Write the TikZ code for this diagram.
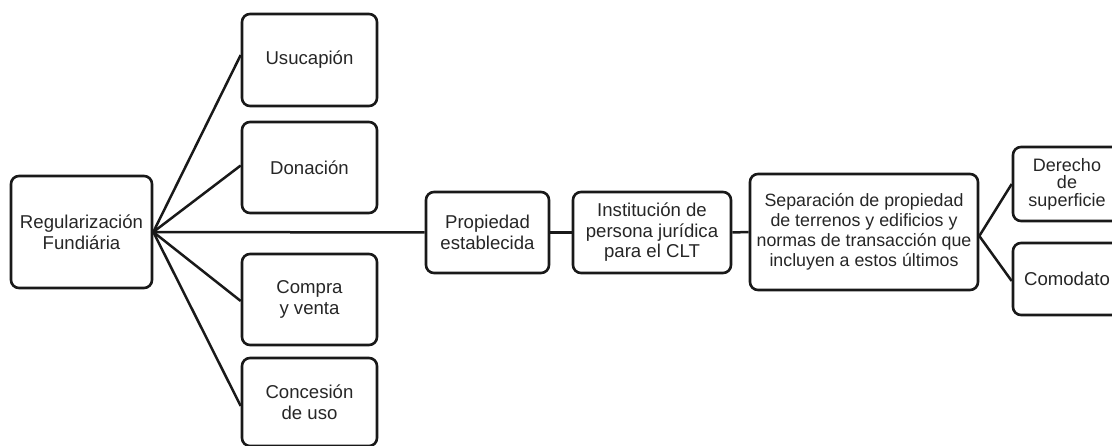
\documentclass[tikz,border=0pt]{standalone}
\usepackage{fontspec}
\setmainfont{Liberation Sans}
\begin{document}
\begin{tikzpicture}[x=1pt,y=-1pt,
  box/.style={draw=black!90,line width=2.6pt,rounded corners=8pt,align=center,
    inner sep=0pt,font=\fontsize{18.6}{20.5}\selectfont,text=black!85},
  conn/.style={draw=black!90,line width=2.5pt}]
\useasboundingbox (0,0) rectangle (1112,446);
\clip (0,0) rectangle (1112,446);
\node[box,minimum width=141pt,minimum height=112pt] (reg) at (81.5,232) {Regularización\\Fundiária};
\node[box,minimum width=135pt,minimum height=92pt] (usu) at (309.5,60) {Usucapión};
\node[box,minimum width=135pt,minimum height=91pt] (don) at (309.5,167.5) {Donación};
\node[box,minimum width=135pt,minimum height=91pt] (com) at (309.5,299.5) {Compra\\y venta};
\node[box,minimum width=135pt,minimum height=88pt] (con) at (309.5,402) {Concesión\\de uso};
\node[box,minimum width=123pt,minimum height=81pt] (pro) at (487.5,232.5) {Propiedad\\establecida};
\node[box,minimum width=158pt,minimum height=81pt] (ins) at (652,232.5) {Institución de\\persona jurídica\\para el CLT};
\node[box,minimum width=228pt,minimum height=116pt,font=\fontsize{17.8}{20}\selectfont] (sep) at (864,232) {Separación de propiedad\\de terrenos y edificios y\\normas de transacción que\\incluyen a estos últimos};
\node[box,minimum width=108pt,minimum height=74pt,font=\fontsize{18}{17.5}\selectfont] (der) at (1067,184) {Derecho\\de\\superficie};
\node[box,minimum width=108pt,minimum height=72pt] (cmd) at (1067,279) {Comodato};
\draw[conn] (reg.east) -- ([yshift=5pt]usu.west);
\draw[conn] (reg.east) -- ([yshift=2pt]don.west);
\draw[conn] (reg.east) -- (pro.west);
\draw[conn] (reg.east) -- ([yshift=-1.5pt]com.west);
\draw[conn] (reg.east) -- ([yshift=-4pt]con.west);
\draw[conn] (pro.east) -- (ins.west);
\draw[conn] (ins.east) -- (sep.west);
\draw[conn] ([yshift=-4pt]sep.east) -- (der.west);
\draw[conn] ([yshift=-4pt]sep.east) -- ([yshift=-2pt]cmd.west);
\end{tikzpicture}
\end{document}
